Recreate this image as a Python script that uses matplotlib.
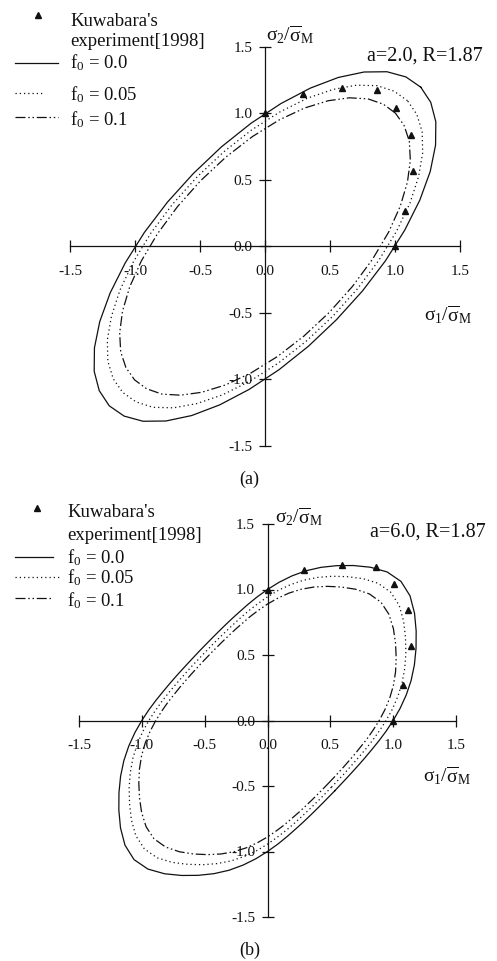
import numpy as np
import matplotlib
matplotlib.use("Agg")
import matplotlib.pyplot as plt
from matplotlib.lines import Line2D

plt.rcParams['font.family'] = ['Liberation Serif', 'DejaVu Serif']
plt.rcParams['mathtext.fontset'] = 'custom'
plt.rcParams['mathtext.rm'] = 'Liberation Serif'
plt.rcParams['mathtext.it'] = 'Liberation Serif:italic'
plt.rcParams['mathtext.bf'] = 'Liberation Serif:bold'
plt.rcParams['axes.unicode_minus'] = False

# ---------------- data ----------------
# Kuwabara's experiment [1998]
x_exp = [0.0, 0.29, 0.59, 0.86, 1.01, 1.12, 1.14, 1.08, 1.0]
y_exp = [1.0, 1.15, 1.19, 1.175, 1.045, 0.84, 0.57, 0.27, 0.0]

# (a) a=2.0, R=1.87 -- yield loci for f0 = 0.0, 0.05, 0.1
x_a0 = [1.198, 1.084, 0.938, 0.762, 0.564, 0.349, 0.123, -0.107, -0.334, -0.550, -0.750, -0.927,
        -1.075, -1.191, -1.271, -1.312, -1.314, -1.275, -1.198, -1.084, -0.938, -0.762, -0.564, -0.349,
        -0.123, 0.107, 0.334, 0.550, 0.750, 0.927, 1.075, 1.191, 1.271, 1.312, 1.314, 1.275]
y_a0 = [1.198, 1.275, 1.314, 1.312, 1.271, 1.191, 1.075, 0.927, 0.750, 0.550, 0.334, 0.107,
        -0.123, -0.349, -0.564, -0.762, -0.938, -1.084, -1.198, -1.275, -1.314, -1.312, -1.271, -1.191,
        -1.075, -0.927, -0.750, -0.550, -0.334, -0.107, 0.123, 0.349, 0.564, 0.762, 0.938, 1.084]

x_a05 = [1.096, 0.993, 0.863, 0.704, 0.524, 0.326, 0.115, -0.102, -0.317, -0.523, -0.712, -0.877,
         -1.012, -1.115, -1.181, -1.213, -1.209, -1.168, -1.096, -0.993, -0.863, -0.704, -0.524, -0.326,
         -0.115, 0.102, 0.317, 0.523, 0.712, 0.877, 1.012, 1.115, 1.181, 1.213, 1.209, 1.168]
y_a05 = [1.096, 1.168, 1.209, 1.213, 1.181, 1.115, 1.012, 0.877, 0.712, 0.523, 0.317, 0.102,
         -0.115, -0.326, -0.524, -0.704, -0.863, -0.993, -1.096, -1.168, -1.209, -1.213, -1.181, -1.115,
         -1.012, -0.877, -0.712, -0.523, -0.317, -0.102, 0.115, 0.326, 0.524, 0.704, 0.863, 0.993]

x_a10 = [1.003, 0.910, 0.792, 0.649, 0.486, 0.304, 0.108, -0.096, -0.300, -0.495, -0.673, -0.827,
         -0.951, -1.041, -1.096, -1.118, -1.110, -1.070, -1.003, -0.910, -0.792, -0.649, -0.486, -0.304,
         -0.108, 0.096, 0.300, 0.495, 0.673, 0.827, 0.951, 1.041, 1.096, 1.118, 1.110, 1.070]
y_a10 = [1.003, 1.070, 1.110, 1.118, 1.096, 1.041, 0.951, 0.827, 0.673, 0.495, 0.300, 0.096,
         -0.108, -0.304, -0.486, -0.649, -0.792, -0.910, -1.003, -1.070, -1.110, -1.118, -1.096, -1.041,
         -0.951, -0.827, -0.673, -0.495, -0.300, -0.096, 0.108, 0.304, 0.486, 0.649, 0.792, 0.910]

# (b) a=6.0, R=1.87 -- yield loci for f0 = 0.0, 0.05, 0.1
x_b0 = [0.536, 0.582, 0.629, 0.677, 0.726, 0.777, 0.830, 0.886, 0.943, 1.000, 1.055, 1.104, 1.143, 1.169,
        1.182, 1.183, 1.170, 1.134, 1.062,
        0.952, 0.819, 0.683, 0.551, 0.425, 0.306, 0.195, 0.092, 0.000, -0.083, -0.156, -0.222, -0.283,
        -0.339, -0.391, -0.441, -0.489, -0.536,
        -0.582, -0.629, -0.677, -0.726, -0.777, -0.830, -0.886, -0.943, -1.000, -1.055, -1.104, -1.143,
        -1.169, -1.182, -1.183, -1.170, -1.134, -1.062,
        -0.952, -0.819, -0.683, -0.551, -0.425, -0.306, -0.195, -0.092, 0.000, 0.083, 0.156, 0.222,
        0.283, 0.339, 0.391, 0.441, 0.489]
y_b0 = [-0.536, -0.489, -0.441, -0.391, -0.339, -0.283, -0.222, -0.156, -0.083, 0.000, 0.092, 0.195, 0.306,
        0.425, 0.551, 0.683, 0.819, 0.952, 1.062,
        1.134, 1.170, 1.183, 1.182, 1.169, 1.143, 1.104, 1.055, 1.000, 0.943, 0.886, 0.830, 0.777, 0.726,
        0.677, 0.629, 0.582, 0.536,
        0.489, 0.441, 0.391, 0.339, 0.283, 0.222, 0.156, 0.083, 0.000, -0.092, -0.195, -0.306, -0.425,
        -0.551, -0.683, -0.819, -0.952, -1.062,
        -1.134, -1.170, -1.183, -1.182, -1.169, -1.143, -1.104, -1.055, -1.000, -0.943, -0.886, -0.830,
        -0.777, -0.726, -0.677, -0.629, -0.582]

x_b05 = [0.509, 0.553, 0.598, 0.643, 0.689, 0.737, 0.787, 0.839, 0.891, 0.944, 0.994, 1.037, 1.071, 1.092,
         1.101, 1.098, 1.083, 1.048, 0.980,
         0.879, 0.759, 0.634, 0.514, 0.398, 0.287, 0.183, 0.087, 0.000, -0.078, -0.148, -0.211, -0.268,
         -0.321, -0.371, -0.419, -0.464, -0.509,
         -0.553, -0.598, -0.643, -0.689, -0.737, -0.787, -0.839, -0.891, -0.944, -0.994, -1.037, -1.071,
         -1.092, -1.101, -1.098, -1.083, -1.048, -0.980,
         -0.879, -0.759, -0.634, -0.514, -0.398, -0.287, -0.183, -0.087, 0.000, 0.078, 0.148, 0.211,
         0.268, 0.321, 0.371, 0.419, 0.464]
y_b05 = [-0.509, -0.464, -0.419, -0.371, -0.321, -0.268, -0.211, -0.148, -0.078, 0.000, 0.087, 0.183, 0.287,
         0.398, 0.514, 0.634, 0.759, 0.879, 0.980,
         1.048, 1.083, 1.098, 1.101, 1.092, 1.071, 1.037, 0.994, 0.944, 0.891, 0.839, 0.787, 0.737, 0.689,
         0.643, 0.598, 0.553, 0.509,
         0.464, 0.419, 0.371, 0.321, 0.268, 0.211, 0.148, 0.078, 0.000, -0.087, -0.183, -0.287, -0.398,
         -0.514, -0.634, -0.759, -0.879, -0.980,
         -1.048, -1.083, -1.098, -1.101, -1.092, -1.071, -1.037, -0.994, -0.944, -0.891, -0.839, -0.787,
         -0.737, -0.689, -0.643, -0.598, -0.553]

x_b10 = [0.482, 0.524, 0.566, 0.609, 0.652, 0.697, 0.743, 0.792, 0.840, 0.889, 0.934, 0.973, 1.002, 1.019,
         1.024, 1.019, 1.002, 0.966, 0.903,
         0.811, 0.701, 0.588, 0.477, 0.371, 0.268, 0.172, 0.082, 0.000, -0.074, -0.140, -0.199, -0.254,
         -0.304, -0.351, -0.396, -0.440, -0.482,
         -0.524, -0.566, -0.609, -0.652, -0.697, -0.743, -0.792, -0.840, -0.889, -0.934, -0.973, -1.002,
         -1.019, -1.024, -1.019, -1.002, -0.966, -0.903,
         -0.811, -0.701, -0.588, -0.477, -0.371, -0.268, -0.172, -0.082, 0.000, 0.074, 0.140, 0.199,
         0.254, 0.304, 0.351, 0.396, 0.440]
y_b10 = [-0.482, -0.440, -0.396, -0.351, -0.304, -0.254, -0.199, -0.140, -0.074, 0.000, 0.082, 0.172, 0.268,
         0.371, 0.477, 0.588, 0.701, 0.811, 0.903,
         0.966, 1.002, 1.019, 1.024, 1.019, 1.002, 0.973, 0.934, 0.889, 0.840, 0.792, 0.743, 0.697, 0.652,
         0.609, 0.566, 0.524, 0.482,
         0.440, 0.396, 0.351, 0.304, 0.254, 0.199, 0.140, 0.074, 0.000, -0.082, -0.172, -0.268, -0.371,
         -0.477, -0.588, -0.701, -0.811, -0.903,
         -0.966, -1.002, -1.019, -1.024, -1.019, -1.002, -0.973, -0.934, -0.889, -0.840, -0.792, -0.743,
         -0.697, -0.652, -0.609, -0.566, -0.524]

ticks = [-1.5, -1.0, -0.5, 0.0, 0.5, 1.0, 1.5]
tick_labels = ['-1.5', '-1.0', '-0.5', '0.0', '0.5', '1.0', '1.5']
series_labels = ['f$_0$ = 0.0', 'f$_0$ = 0.05', 'f$_0$ = 0.1']
exp_label = "Kuwabara's\nexperiment[1998]"

# ---------------- styles ----------------
INK = '#111111'
LW = 0.9
STYLE_SOLID = '-'
STYLE_DOT = (0, (1.0, 2.4))
STYLE_DDOT = (0, (8, 2.2, 1.2, 2.2, 1.2, 2.2))

W, H = 497, 961
fig = plt.figure(figsize=(W / 100, H / 100), dpi=100)


def fx(px):
    return px / W


def fy(py):
    return 1 - py / H


def closed(xs, ys):
    return list(xs) + [xs[0]], list(ys) + [ys[0]]


def make_axes(left, top, right, bottom):
    ax = fig.add_axes([fx(left), fy(bottom), (right - left) / W, (bottom - top) / H])
    ax.set_xlim(-1.5, 1.5)
    ax.set_ylim(-1.5, 1.5)
    ax.patch.set_alpha(0)
    for s in ('top', 'right'):
        ax.spines[s].set_visible(False)
    ax.spines['left'].set_position(('data', 0))
    ax.spines['bottom'].set_position(('data', 0))
    for s in ('left', 'bottom'):
        ax.spines[s].set_linewidth(0.9)
        ax.spines[s].set_color(INK)
    ax.set_xticks(ticks)
    ax.set_xticklabels(tick_labels)
    ax.set_yticks(ticks)
    ax.set_yticklabels(tick_labels)
    ax.tick_params(axis='both', direction='inout', length=8, width=0.9, colors=INK, labelsize=11)
    ax.tick_params(axis='x', pad=9)
    ax.tick_params(axis='y', pad=5)
    return ax


def draw_panel(ax, xs0, ys0, xs05, ys05, xs10, ys10):
    for xs, ys, ls in ((xs0, ys0, STYLE_SOLID), (xs05, ys05, STYLE_DOT), (xs10, ys10, STYLE_DDOT)):
        cx, cy = closed(xs, ys)
        ax.plot(cx, cy, color=INK, lw=LW, linestyle=ls, solid_joinstyle='round')
    ax.plot(x_exp, y_exp, linestyle='none', marker='^', markersize=4.6, color=INK, clip_on=False)


def draw_key(marker_xy, text_x, base_lines, rows, lw_sample, font=13.5):
    # experiment marker and its two-line label
    fig.add_artist(Line2D([fx(marker_xy[0])], [fy(marker_xy[1])], marker='^', markersize=4.6,
                          color=INK, linestyle='none', transform=fig.transFigure))
    l1, l2 = exp_label.split('\n')
    fig.text(fx(text_x), fy(base_lines[0]), l1, fontsize=font, va='baseline', ha='left', color=INK)
    fig.text(fx(text_x), fy(base_lines[1]), l2, fontsize=font, va='baseline', ha='left', color=INK)
    for (x0, x1, ly, base), ls, lab in zip(rows, (STYLE_SOLID, STYLE_DOT, STYLE_DDOT), series_labels):
        fig.add_artist(Line2D([fx(x0), fx(x1)], [fy(ly), fy(ly)], color=INK, lw=lw_sample,
                              linestyle=ls, transform=fig.transFigure))
        fig.text(fx(text_x), fy(base), lab, fontsize=font, va='baseline', ha='left', color=INK)


lab_y = r'$\mathrm{\sigma_2/\overline{\sigma}_M}$'
lab_x = r'$\mathrm{\sigma_1/\overline{\sigma}_M}$'

# ---------------- panel (a) ----------------
ax_a = make_axes(70, 47, 460, 446)
draw_panel(ax_a, x_a0, y_a0, x_a05, y_a05, x_a10, y_a10)
fig.text(fx(290), fy(35), lab_y, fontsize=14, ha='center', va='center', color=INK)
fig.text(fx(448), fy(315), lab_x, fontsize=14, ha='center', va='center', color=INK)
fig.text(fx(367), fy(61), 'a=2.0, R=1.87', fontsize=14.5, ha='left', va='baseline', color=INK)
fig.text(fx(249), fy(484), '(a)', fontsize=13, ha='center', va='baseline', color=INK)
draw_key((38, 15), 70, (26, 46),
         [(15, 58, 63, 68), (15, 42, 93, 100), (15, 58, 117, 125)], LW)

# ---------------- panel (b) ----------------
ax_b = make_axes(79, 524, 456, 917)
draw_panel(ax_b, x_b0, y_b0, x_b05, y_b05, x_b10, y_b10)
fig.text(fx(299), fy(517), lab_y, fontsize=14, ha='center', va='center', color=INK)
fig.text(fx(447), fy(776), lab_x, fontsize=14, ha='center', va='center', color=INK)
fig.text(fx(370), fy(537), 'a=6.0, R=1.87', fontsize=14.5, ha='left', va='baseline', color=INK)
fig.text(fx(250), fy(955), '(b)', fontsize=13, ha='center', va='baseline', color=INK)
draw_key((37, 508), 67, (517, 540),
         [(15, 53, 557, 563), (15, 60, 577, 583), (15, 53, 598, 606)], LW)

fig.savefig('out.png', dpi=100)
